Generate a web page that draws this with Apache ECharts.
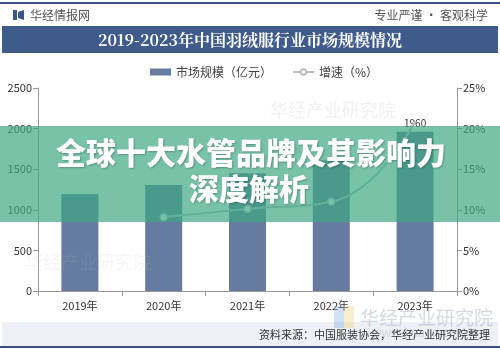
<!DOCTYPE html>
<html><head><meta charset="utf-8">
<script src="https://cdn.jsdelivr.net/npm/echarts@6/dist/echarts.min.js"></script>
<style>html,body{margin:0;padding:0;background:#fff}#c{width:500px;height:349px}</style>
</head><body><div id="c"></div>
<script>
var categories = ['2019年','2020年','2021年','2022年','2023年'];
var marketSize = [1195, 1305, 1450, 1610, 1960];
var growthRate = [null, 9.1, 10.1, 11.0, 21.0];
var leftTicks = [0, 2500, 500];
var rightTicks = [0, 25, 5];
var FONT = '"Noto Sans CJK SC","Noto Sans",sans-serif';

var chart = echarts.init(document.getElementById('c'), null, {renderer:'canvas'});
chart.setOption({
  animation:false,
  textStyle:{fontFamily:FONT},
  legend:{
    top:61, left:145, itemGap:20, itemWidth:21, itemHeight:7,
    textStyle:{fontSize:12, color:'#444', fontFamily:FONT},
    data:[{name:'市场规模（亿元）', icon:'rect'},{name:'增速（%）'}]
  },
  grid:{left:38, right:43, top:88, bottom:58},
  xAxis:{
    type:'category', data:categories,
    axisLine:{lineStyle:{color:'#999'}},
    axisTick:{show:true, lineStyle:{color:'#999'}},
    axisLabel:{fontSize:11, color:'#333', margin:9}
  },
  yAxis:[
    {type:'value', min:leftTicks[0], max:leftTicks[1], interval:leftTicks[2],
     axisLine:{show:true, lineStyle:{color:'#999'}},
     axisTick:{show:true, lineStyle:{color:'#999'}},
     splitLine:{show:false},
     axisLabel:{fontSize:11, color:'#333', margin:6, formatter:function(v){return String(v);}}},
    {type:'value', min:rightTicks[0], max:rightTicks[1], interval:rightTicks[2],
     axisLine:{show:true, lineStyle:{color:'#999'}},
     axisTick:{show:true, lineStyle:{color:'#999'}},
     splitLine:{show:false},
     axisLabel:{fontSize:11, color:'#333', margin:6, formatter:'{value}%'}}
  ],
  series:[
    {name:'市场规模（亿元）', type:'bar', barWidth:37, yAxisIndex:0,
     itemStyle:{color:'#667ba0'},
     data:marketSize.map(function(v,i){
       return i===marketSize.length-1 ? {value:v, label:{show:true, position:'top', fontSize:10, color:'#333', distance:4}} : v;
     })},
    {name:'增速（%）', type:'line', yAxisIndex:1, smooth:true,
     symbol:'circle', symbolSize:7,
     lineStyle:{color:'#b8bec6', width:2},
     itemStyle:{color:'#fff', borderColor:'#b8bec6', borderWidth:1.5},
     data:growthRate.map(function(v,i){
       return i===growthRate.length-1 ? {value:v, symbol:'none'} : v;
     })}
  ],
  graphic:[
    {type:'rect', shape:{x:0,y:2,width:500,height:2}, style:{fill:'#3a4f7a'}, z:50},
    {type:'rect', shape:{x:13,y:10,width:4,height:10}, style:{fill:'#3a5588'}, z:50},
    {type:'polygon', shape:{points:[[18,12],[24,10],[24,20],[18,18]]}, style:{fill:'#3a5588'}, z:50},
    {type:'text', x:30, y:15, style:{text:'华经情报网', fontSize:12, fill:'#555', fontFamily:FONT, textVerticalAlign:'middle'}, z:50},
    {type:'text', x:488, y:15, style:{text:'专业严谨 • 客观科学', fontSize:12, fill:'#555', fontFamily:FONT, textAlign:'right', textVerticalAlign:'middle'}, z:50},
    {type:'rect', shape:{x:2,y:26,width:496,height:27}, style:{fill:'#3f5b8c'}, z:50},
    {type:'text', x:250, y:40, style:{text:'2019-2023年中国羽绒服行业市场规模情况', fontSize:16, fontWeight:'bold', fill:'#fff', fontFamily:'"Noto Serif CJK SC","Noto Sans CJK SC",serif', textAlign:'center', textVerticalAlign:'middle'}, z:50},
    {type:'text', x:360, y:318, style:{text:'华经产业研究院', fontSize:19, fill:'rgba(160,170,190,0.45)', fontFamily:FONT, textAlign:'left', textVerticalAlign:'middle'}, z:40},
    {type:'text', x:372, y:332, style:{text:'www.huaon.com', fontSize:12, fill:'rgba(160,170,190,0.35)', fontFamily:FONT, textAlign:'left', textVerticalAlign:'middle'}, z:40},
    {type:'rect', shape:{x:334,y:306,width:10,height:22}, style:{fill:'rgba(120,170,230,0.35)'}, z:40},
    {type:'rect', shape:{x:344,y:306,width:10,height:22}, style:{fill:'rgba(240,210,110,0.35)'}, z:40},
    {type:'text', x:270, y:110, style:{text:'华经产业研究院', fontSize:18, fill:'rgba(180,185,200,0.2)', fontFamily:FONT, textVerticalAlign:'middle'}, z:40},
    {type:'text', x:25, y:262, style:{text:'华经产业研究院', fontSize:18, fill:'rgba(190,195,205,0.15)', fontFamily:FONT, textVerticalAlign:'middle'}, z:40},
    {type:'rect', shape:{x:2,y:322,width:496,height:24}, style:{fill:'#eef0f6'}, z:30},
    {type:'text', x:490, y:335, style:{text:'资料来源：中国服装协会，华经产业研究院整理', fontSize:11, fill:'#333', fontFamily:FONT, textAlign:'right', textVerticalAlign:'middle'}, z:50},
    {type:'rect', shape:{x:0,y:346,width:500,height:2}, style:{fill:'#3a4f7a'}, z:50},
    {type:'rect', shape:{x:0,y:126,width:500,height:96}, style:{fill:'rgba(62,168,131,0.7)'}, z:100},
    {type:'text', x:251, y:153, style:{text:'全球十大水管品牌及其影响力', fontSize:30, fontWeight:900, fill:'#fff', fontFamily:FONT, textAlign:'center', textVerticalAlign:'middle', textShadowColor:'rgba(0,0,0,0.25)', textShadowBlur:2, textShadowOffsetX:1, textShadowOffsetY:1}, z:101},
    {type:'text', x:249, y:189, style:{text:'深度解析', fontSize:30, fontWeight:900, fill:'#fff', fontFamily:FONT, textAlign:'center', textVerticalAlign:'middle', textShadowColor:'rgba(0,0,0,0.25)', textShadowBlur:2, textShadowOffsetX:1, textShadowOffsetY:1}, z:101}
  ]
});
</script></body></html>
